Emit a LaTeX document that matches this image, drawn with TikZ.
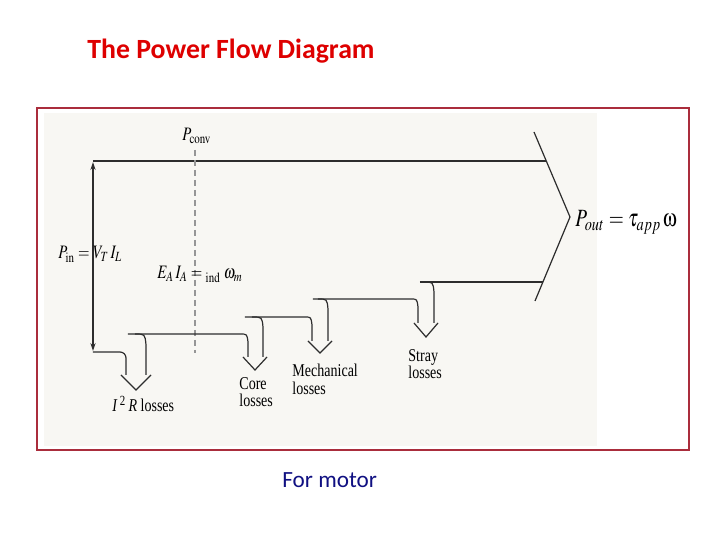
\documentclass[tikz,border=0pt]{standalone}
\usepackage{mathptmx}
\usepackage[Symbol]{upgreek}
\usepackage[no-math]{fontspec}
\setmainfont{Liberation Serif}
\newfontfamily\carlito{Carlito}
\usepackage{graphicx}
\usetikzlibrary{arrows.meta}
\definecolor{titlered}{RGB}{222,0,0}
\definecolor{boxred}{RGB}{170,45,60}
\definecolor{navyblue}{RGB}{16,16,130}
\definecolor{ink}{RGB}{45,45,45}
\definecolor{dashgray}{RGB}{150,150,150}
\definecolor{scanbg}{RGB}{248,247,243}
\newcommand{\sqz}[1]{\scalebox{0.78}[1]{#1}}
\begin{document}
\begin{tikzpicture}[x=0.5pt,y=-0.5pt,
  >={Stealth[length=4pt,width=2.6pt]},
  band/.style={draw=ink, line width=0.6pt},
  head/.style={draw=ink, line width=0.6pt, line join=miter},
  losslabel/.style={anchor=north west, inner sep=0pt, align=left, font=\fontsize{9}{8.5}\selectfont},
  mathlabel/.style={anchor=base west, inner sep=0pt, font=\fontsize{9.5}{11}\selectfont}]
\useasboundingbox (0,0) rectangle (720,540);
\fill[white] (0,0) rectangle (720,540);

% title and caption
\node[anchor=base west, inner sep=0pt, text=titlered, font=\carlito\bfseries\fontsize{13.9}{16}\selectfont] (title) at (87,59) {The Power Flow Diagram};
\node[anchor=base west, inner sep=0pt, text=navyblue, font=\carlito\fontsize{11.6}{14}\selectfont] (caption) at (282,488) {For motor};

% framed scan
\fill[scanbg] (44,113) rectangle (597,446);
\draw[boxred, line width=1pt] (37,108) rectangle (689,450);

% coordinates
\coordinate (tl) at (93,161);
\coordinate (bl) at (93,352);
\coordinate (chevA) at (534,132);
\coordinate (chevT) at (570,217);
\coordinate (chevB) at (535,301);

% main band
\draw[band] (tl) -- (546,161);
\draw[band] (chevA) -- (chevT) -- (chevB);
\draw[band, <->] (93,162) -- (93,351);
\draw[dashgray, line width=0.6pt, dash pattern=on 3pt off 2pt] (195,150) -- (195,353);

% I^2R losses arrow
\draw[band, rounded corners=3pt] (bl) -- (126,352) -- (126,375);
\draw[band] (128,334) -- (240,334) .. controls (247,334) .. (248,342) -- (248,357);
\draw[band] (135,334) .. controls (145,334) .. (146,345) -- (146,375);
\draw[head] (121,375) -- (136,390) -- (151,375);

% core losses arrow
\draw[band] (245,317) -- (305,317) .. controls (311,317) .. (312,325) -- (312,341);
\draw[band] (252,317) .. controls (262,317) .. (263,327) -- (263,357);
\draw[head] (243,357) -- (255,370) -- (267,357);

% mechanical losses arrow
\draw[band] (313,299) -- (411,299) .. controls (417,299) .. (418,307) -- (418,323);
\draw[band] (318,299) .. controls (327,299) .. (328,309) -- (328,341);
\draw[head] (308,341) -- (320,353) -- (332,341);

% stray losses arrow
\draw[band] (420,282) -- (543,282);
\draw[band] (424,282) .. controls (433,282) .. (434,292) -- (434,323);
\draw[head] (414,323) -- (426,337) -- (438,323);

% math labels
\node[mathlabel] (pconv) at (182,141) {\sqz{$P_{\mathrm{conv}}$}};
\node[mathlabel] (pin) at (58,259) {\sqz{$P_{\mathrm{in}} = V_T\,I_L$}};
\node[mathlabel] (ea) at (157,279) {\sqz{$E_A\,I_A = {}_{\mathrm{ind}}\;\omega_m$}};
\node[anchor=base west, inner sep=0pt, font=\fontsize{12.4}{15}\selectfont] (pout) at (575,227) {\sqz{$P_{out} = \tau_{app}\,\upomega$}};

% loss labels
\node[anchor=base west, inner sep=0pt, font=\fontsize{9}{8.5}\selectfont] (lossI) at (112,412) {\sqz{\textit{I}\,\textsuperscript{2}\,\textit{R} losses}};
\node[losslabel] (lossCore) at (239,377) {\sqz{\begin{tabular}{@{}l@{}}Core\\losses\end{tabular}}};
\node[losslabel] (lossMech) at (292,364) {\sqz{\begin{tabular}{@{}l@{}}Mechanical\\losses\end{tabular}}};
\node[losslabel] (lossStray) at (408,349) {\sqz{\begin{tabular}{@{}l@{}}Stray\\losses\end{tabular}}};
\end{tikzpicture}
\end{document}
